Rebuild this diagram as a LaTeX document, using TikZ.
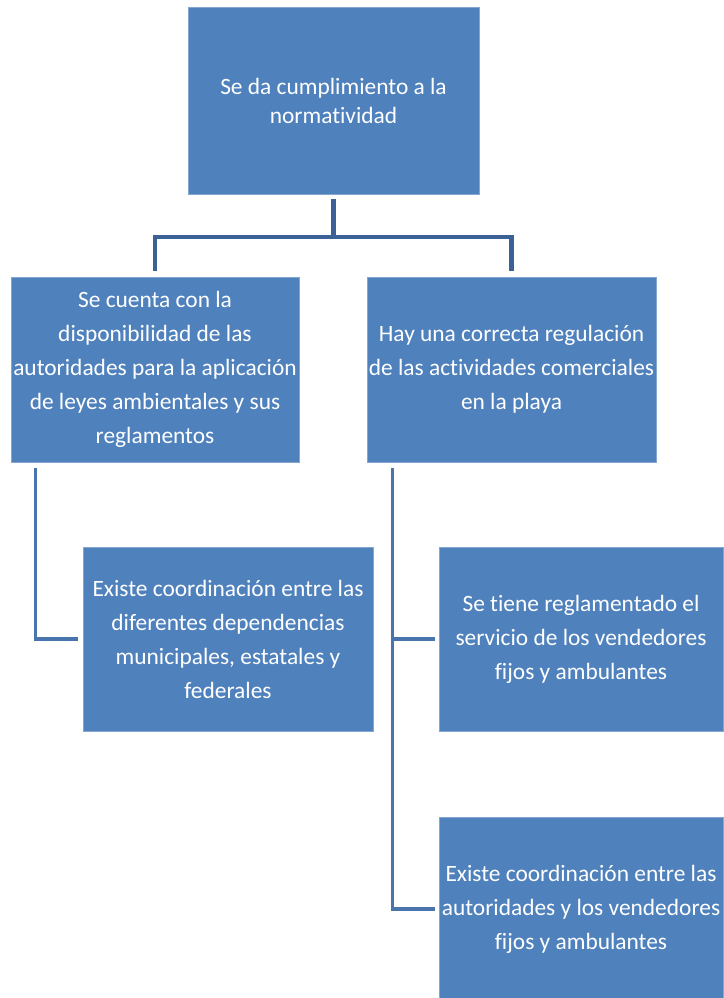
\documentclass[tikz,border=0pt]{standalone}
\usepackage{fontspec}
\setmainfont{Carlito}[Ligatures=NoCommon]
\definecolor{boxblue}{HTML}{4F81BD}
\definecolor{topline}{HTML}{3C6196}
\definecolor{sideline}{HTML}{4A74AC}
\tikzset{
  box/.style={fill=boxblue, draw=boxblue!70!white, line width=0.8pt, text=white, align=center,
    font=\fontsize{23.4}{34}\selectfont, inner sep=0pt},
  conntop/.style={draw=topline, line width=4.5pt},
  connside/.style={draw=sideline, line width=3.5pt},
}
\begin{document}
\begin{tikzpicture}[x=1pt,y=-1pt]
\useasboundingbox (0,0) rectangle (723,998);
\node[box, minimum width=291pt, minimum height=187pt, font=\fontsize{23.4}{29}\selectfont] (top) at (333.5,101)
  {Se da cumplimiento a la\\normatividad};
\node[box, minimum width=288pt, minimum height=185pt] (L) at (155,369.5)
  {Se cuenta con la\\disponibilidad de las\\autoridades para la aplicación\\de leyes ambientales y sus\\reglamentos};
\node[box, minimum width=289pt, minimum height=185pt] (R) at (511.5,369.5)
  {Hay una correcta regulación\\de las actividades comerciales\\en la playa};
\node[box, minimum width=290pt, minimum height=184pt] (LC) at (228,639)
  {Existe coordinación entre las\\diferentes dependencias\\municipales, estatales y\\federales};
\node[box, minimum width=284pt, minimum height=184pt] (RC1) at (581,639)
  {Se tiene reglamentado el\\servicio de los vendedores\\fijos y ambulantes};
\node[box, minimum width=284pt, minimum height=184pt] (RC2) at (581,909)
  {Existe coordinación entre las\\autoridades y los vendedores\\fijos y ambulantes};
\coordinate (bar) at ([yshift=-42pt]top.south);
\draw[conntop] ([yshift=-4pt]top.south) -- (bar);
\draw[conntop, line cap=rect] (bar) -| ([yshift=8pt]L.north);
\draw[conntop, line cap=rect] (bar) -| ([yshift=8pt]R.north);
\draw[connside] ([xshift=25pt,yshift=-6pt]L.south west) |- ([xshift=-5pt]LC.west);
\draw[connside] ([xshift=26pt,yshift=-6pt]R.south west) |- ([xshift=-4pt]RC1.west);
\draw[connside] ([xshift=26pt,yshift=-6pt]R.south west) |- ([xshift=-4pt]RC2.west);
\end{tikzpicture}
\end{document}
